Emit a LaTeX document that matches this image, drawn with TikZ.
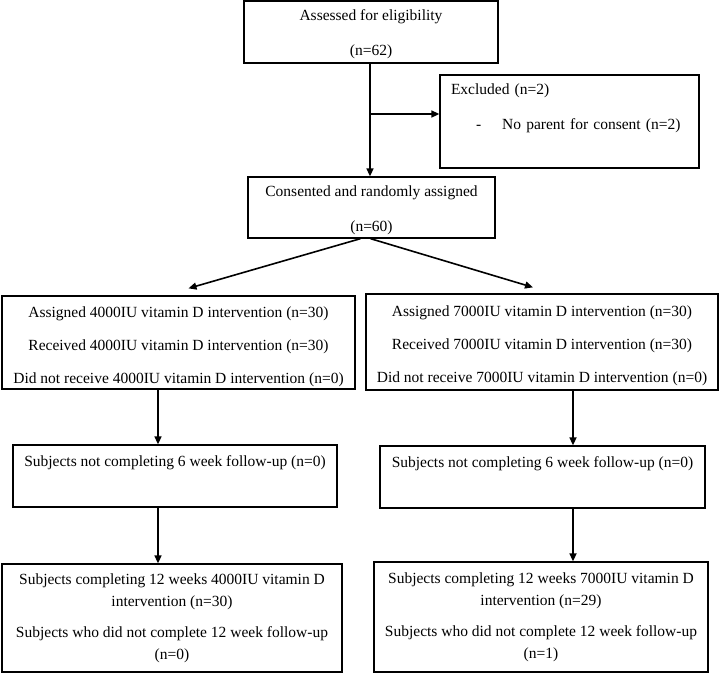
\documentclass[tikz,border=0pt]{standalone}
\usepackage{fontspec}
\setmainfont{Liberation Serif}
\usetikzlibrary{arrows.meta,positioning}

\begin{document}
\begin{tikzpicture}[x=1pt, y=-1pt,
  >={Triangle[length=8pt,width=7pt]},
  box/.style={draw, line width=1.3pt, align=center, inner sep=0pt,
    font=\fontsize{15.5pt}{22pt}\selectfont},
  flow/.style={->, line width=1.6pt}]
  \useasboundingbox (0,0) rectangle (720,673);
  % screening
  \node[box, minimum width=254pt, minimum height=62pt] (assess) at (371,32)
    {\rule{0pt}{16pt}Assessed for eligibility\\[13pt](n=62)};
  \node[box, align=left, text width=237pt, inner xsep=11pt, minimum height=93pt] (excl) at (569.5,121.5)
    {Excluded (n=2)\\[13pt]\hspace*{25pt}-\hspace{21pt}No parent for consent (n=2)\\[8pt]\mbox{}};
  \node[box, minimum width=247pt, minimum height=61pt] (cons) at (371.5,207.5)
    {\rule{0pt}{16pt}Consented and randomly assigned\\[13pt](n=60)};
  % allocation
  \node[box, minimum width=353pt, minimum height=93pt] (armA) at (178.5,342.5)
    {\rule{0pt}{19pt}Assigned 4000IU vitamin D intervention (n=30)\\[11pt]Received 4000IU vitamin D intervention (n=30)\\[11pt]Did not receive 4000IU vitamin D intervention (n=0)};
  \node[box, minimum width=352pt, minimum height=96pt] (armB) at (542,342)
    {\rule{0pt}{19pt}Assigned 7000IU vitamin D intervention (n=30)\\[11pt]Received 7000IU vitamin D intervention (n=30)\\[11pt]Did not receive 7000IU vitamin D intervention (n=0)};
  % follow-up
  \node[box, minimum width=324pt, minimum height=62pt] (sixA) at (175,476)
    {Subjects not completing 6 week follow-up (n=0)\\[8pt]\mbox{}};
  \node[box, minimum width=325pt, minimum height=62pt] (sixB) at (542.5,477)
    {Subjects not completing 6 week follow-up (n=0)\\[8pt]\mbox{}};
  \node[box, minimum width=340pt, minimum height=108pt] (endA) at (172,618)
    {Subjects completing 12 weeks 4000IU vitamin D\\intervention (n=30)\\[9pt]Subjects who did not complete 12 week follow-up\\(n=0)};
  \node[box, minimum width=334pt, minimum height=110pt] (endB) at (541,617)
    {Subjects completing 12 weeks 7000IU vitamin D\\intervention (n=29)\\[9pt]Subjects who did not complete 12 week follow-up\\(n=1)};
  \coordinate (split) at (370,114);
  \draw[flow] (assess.south -| split) -- (cons.north -| split);
  \draw[flow] (split) -- (split -| excl.west);
  \draw[flow] ([xshift=-11pt]cons.south) -- ([xshift=10pt,yshift=7pt]armA.north);
  \draw[flow] ([xshift=-1pt]cons.south) -- ([xshift=-9pt,yshift=6pt]armB.north);
  \draw[flow] ([xshift=-20.5pt]armA.south) -- ([xshift=-20.5pt]armA.south |- sixA.north);
  \draw[flow] ([xshift=31pt]armB.south) -- ([xshift=31pt]armB.south |- sixB.north);
  \draw[flow] ([xshift=-17pt]sixA.south) -- ([xshift=-17pt]sixA.south |- endA.north);
  \draw[flow] ([xshift=30.5pt]sixB.south) -- ([xshift=30.5pt]sixB.south |- endB.north);
\end{tikzpicture}
\end{document}
